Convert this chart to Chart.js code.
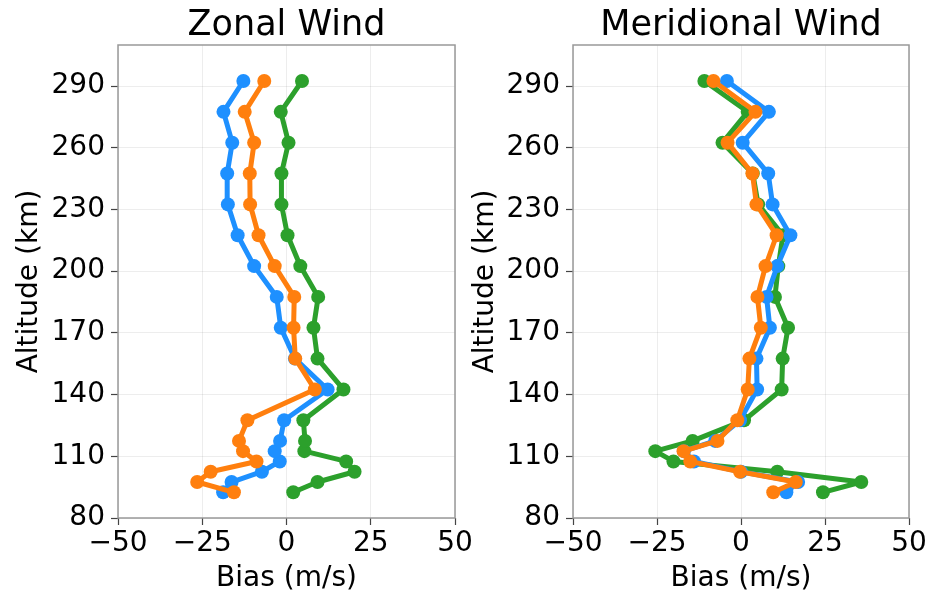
<!DOCTYPE html>
<html>
<head>
<meta charset="utf-8">
<script src="https://cdn.jsdelivr.net/npm/chart.js@4/dist/chart.umd.min.js"></script>
<style>
  body { margin: 0; background: #fff; }
  canvas { position: absolute; top: 0; }
  #zonal { left: 0; }
  #merid { left: 465px; }
</style>
</head>
<body>
<canvas id="zonal" width="500" height="591"></canvas>
<canvas id="merid" width="465" height="591"></canvas>
<script>
// altitude levels (km), bottom to top
const altitudes = [92.5, 97.5, 102.5, 107.5, 112.5, 117.5, 127.5, 142.5, 157.5, 172.5, 187.5, 202.5, 217.5, 232.5, 247.5, 262.5, 277.5, 292.5];

// zonal wind bias (m/s)
const zonalBlue   = [-18.8, -16.3, -7.3, -2.0, -3.5, -1.9, -0.7, 12.2, 2.5, -1.7, -2.9, -9.6, -14.5, -17.4, -17.6, -16.1, -18.7, -12.8];
const zonalOrange = [-15.6, -26.5, -22.5, -8.9, -12.9, -14.1, -11.6, 8.4, 2.6, 2.1, 2.3, -3.5, -8.3, -10.8, -10.9, -9.6, -12.4, -6.6];
const zonalGreen  = [2.0, 9.2, 20.2, 17.7, 5.3, 5.5, 5.0, 16.9, 9.2, 8.0, 9.4, 4.1, 0.3, -1.5, -1.5, 0.6, -1.7, 4.6];

// meridional wind bias (m/s)
const meridBlue   = [13.5, 17.0, 0.0, -14.0, -17.0, -7.7, -0.3, 4.8, 4.6, 8.6, 7.6, 10.8, 14.7, 9.4, 8.1, 0.5, 8.3, -4.2];
const meridOrange = [9.6, 16.3, -0.3, -15.1, -17.1, -7.0, -1.1, 2.0, 2.5, 5.9, 4.9, 7.3, 10.6, 4.6, 3.4, -4.0, 4.3, -8.2];
const meridGreen  = [24.4, 35.8, 10.8, -20.1, -25.5, -14.4, 0.9, 12.1, 12.4, 14.0, 10.1, 11.1, 12.5, 5.1, 3.5, -5.5, 2.0, -10.9];

const xTicks = [-50, -25, 0, 25, 50];
const yTicks = [80, 110, 140, 170, 200, 230, 260, 290];

const FONT = "'DejaVu Sans', sans-serif";
const spineColor = '#999';

// pairs bias values with altitudes for a scatter-line
function toPoints(values) {
    return values.map((v, i) => ({ x: v, y: altitudes[i] }));
}

function makeSet(label, values, color, order) {
    return {
        label: label,
        data: toPoints(values),
        showLine: true,
        borderColor: color,
        backgroundColor: color,
        borderWidth: 5,
        borderJoinStyle: 'round',
        borderCapStyle: 'round',
        pointRadius: 7,
        pointBorderWidth: 0,
        pointBackgroundColor: color,
        order: order
    };
}

// draws title and the full box around the plot area
const framePlugin = {
    id: 'frame',
    afterDraw(chart, args, opts) {
        const { ctx, chartArea } = chart;
        ctx.save();
        ctx.strokeStyle = spineColor;
        ctx.lineWidth = 1.5;
        ctx.strokeRect(chartArea.left, chartArea.top, chartArea.right - chartArea.left, chartArea.bottom - chartArea.top);
        ctx.fillStyle = '#000';
        ctx.font = '35px ' + FONT;
        ctx.textAlign = 'center';
        ctx.textBaseline = 'alphabetic';
        ctx.fillText(opts.text, (chartArea.left + chartArea.right) / 2, 35);
        ctx.restore();
    }
};

function renderChart(id, title, sets, yWidth, rightPad, yTitlePad) {
    const ctx = document.getElementById(id).getContext('2d');
    return new Chart(ctx, {
        type: 'scatter',
        data: { datasets: sets },
        plugins: [framePlugin],
        options: {
            responsive: false,
            animation: false,
            devicePixelRatio: 1,
            layout: { padding: { top: 45, right: rightPad, left: 0, bottom: 0 } },
            scales: {
                x: {
                    type: 'linear',
                    min: -50,
                    max: 50,
                    afterBuildTicks: (s) => { s.ticks = xTicks.map(v => ({ value: v })); },
                    afterFit: (s) => { s.height = 73; s.paddingLeft = 0; s.paddingRight = 0; },
                    grid: { color: 'rgba(0,0,0,0.07)', lineWidth: 1, tickLength: 7, tickColor: '#444', tickWidth: 1.2 },
                    border: { display: false },
                    ticks: {
                        color: '#000',
                        padding: 2,
                        maxRotation: 0,
                        autoSkip: false,
                        font: { family: FONT, size: 28 },
                        callback: (v) => String(v).replace('-', '\u2212')
                    },
                    title: {
                        display: true,
                        text: 'Bias (m/s)',
                        color: '#000',
                        padding: 0,
                        font: { family: FONT, size: 28, lineHeight: 0.9 }
                    }
                },
                y: {
                    type: 'linear',
                    min: 80,
                    max: 310,
                    afterBuildTicks: (s) => { s.ticks = yTicks.map(v => ({ value: v })); },
                    afterFit: (s) => { s.width = yWidth; s.paddingTop = 0; s.paddingBottom = 0; },
                    grid: { color: 'rgba(0,0,0,0.07)', lineWidth: 1, tickLength: 7, tickColor: '#444', tickWidth: 1.2 },
                    border: { display: false },
                    ticks: {
                        color: '#000',
                        padding: 6,
                        autoSkip: false,
                        font: { family: FONT, size: 28 }
                    },
                    title: {
                        display: true,
                        text: 'Altitude (km)',
                        color: '#000',
                        padding: { top: yTitlePad, bottom: 0 },
                        font: { family: FONT, size: 28, lineHeight: 1.2 }
                    }
                }
            },
            plugins: {
                legend: { display: false },
                tooltip: { enabled: false },
                frame: { text: title }
            }
        }
    });
}

renderChart('zonal', 'Zonal Wind', [
    makeSet('Series 1', zonalBlue, '#1E90FF', 2),
    makeSet('Series 2', zonalOrange, '#FF7F0E', 1),
    makeSet('Series 3', zonalGreen, '#2CA02C', 3)
], 118, 45, 13);

renderChart('merid', 'Meridional Wind', [
    makeSet('Series 1', meridBlue, '#1E90FF', 2),
    makeSet('Series 2', meridOrange, '#FF7F0E', 1),
    makeSet('Series 3', meridGreen, '#2CA02C', 3)
], 108, 21, 4);
</script>
</body>
</html>
